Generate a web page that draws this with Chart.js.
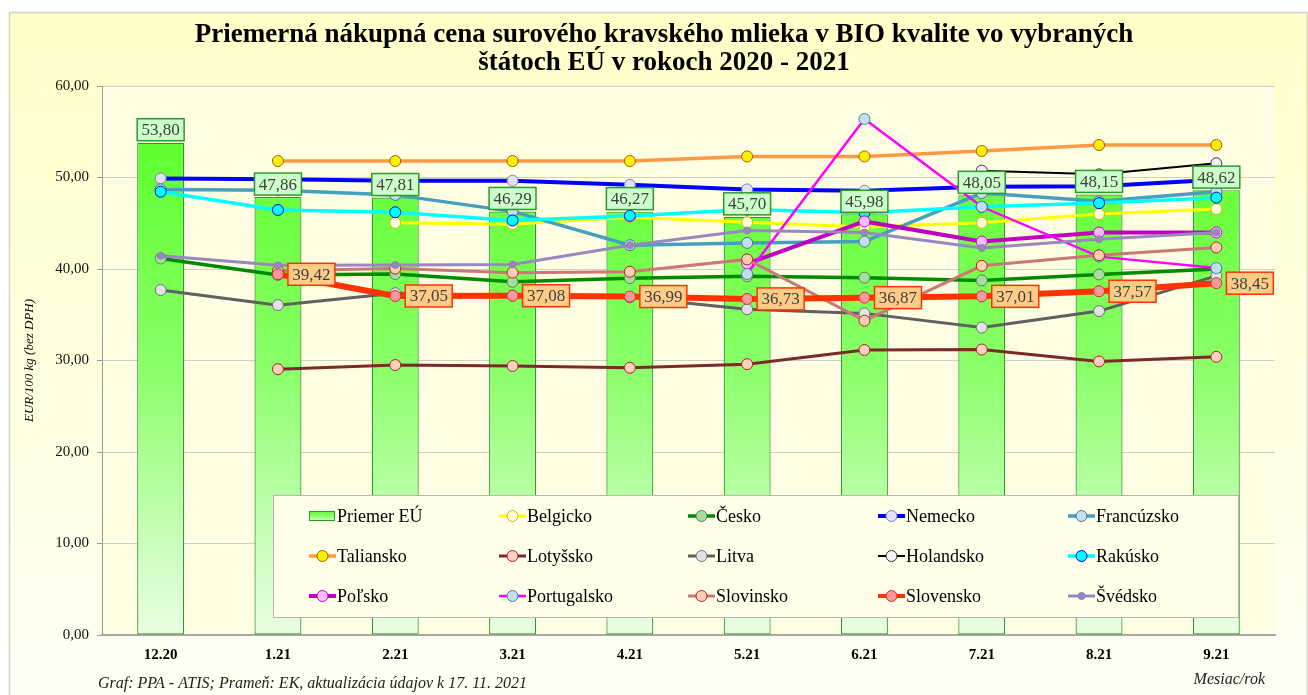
<!DOCTYPE html>
<html>
<head>
<meta charset="utf-8">
<script src="https://cdn.jsdelivr.net/npm/chart.js@4"></script>
<style>
  html, body { margin: 0; padding: 0; background: #fff; }
  #wrap { width: 1308px; height: 695px; }
</style>
</head>
<body>
<div id="wrap"><canvas id="myChart"></canvas></div>
<script>
const months = ["12.20", "1.21", "2.21", "3.21", "4.21", "5.21", "6.21", "7.21", "8.21", "9.21"];
const yTicks = [0, 10, 20, 30, 40, 50, 60];

const priemerEU = [53.80, 47.86, 47.81, 46.29, 46.27, 45.70, 45.98, 48.05, 48.15, 48.62];
const belgicko = [null, null, 45.05, 44.90, 45.65, 45.10, 44.60, 45.05, 46.00, 46.55];
const cesko = [41.15, 39.35, 39.45, 38.60, 39.00, 39.20, 39.05, 38.75, 39.40, 40.00];
const nemecko = [49.90, 49.80, 49.65, 49.65, 49.20, 48.70, 48.55, 49.00, 49.05, 49.75];
const francuzsko = [48.70, 48.60, 48.10, 46.30, 42.60, 42.85, 43.00, 48.30, 47.40, 48.45];
const taliansko = [null, 51.80, 51.80, 51.80, 51.80, 52.30, 52.30, 52.90, 53.55, 53.55];
const lotyssko = [null, 29.05, 29.50, 29.40, 29.20, 29.60, 31.15, 31.20, 29.90, 30.40];
const litva = [37.70, 36.05, 37.35, 37.10, 36.90, 35.60, 35.15, 33.60, 35.40, 39.25];
const holandsko = [null, null, null, null, null, null, null, 50.75, 50.35, 51.55];
const rakusko = [48.45, 46.45, 46.20, 45.30, 45.80, 46.50, 46.15, 46.80, 47.20, 47.80];
const polsko = [null, null, null, null, null, 40.60, 45.20, 43.00, 44.00, 44.00];
const portugalsko = [null, null, null, null, null, 39.45, 56.40, 46.80, 41.35, 40.10];
const slovinsko = [null, 39.80, 40.05, 39.60, 39.70, 41.05, 34.35, 40.35, 41.50, 42.35];
const slovensko = [null, 39.42, 37.05, 37.08, 36.99, 36.73, 36.87, 37.01, 37.57, 38.45];
const svedsko = [41.45, 40.40, 40.45, 40.50, 42.60, 44.20, 44.00, 42.30, 43.25, 44.00];

const serif = "'Liberation Serif', 'Times New Roman', serif";
const fmt = (v) => v.toFixed(2).replace(".", ",");

const lineSeries = [
  { label: "Belgicko", data: belgicko, color: "#ffff00", fill: "#ffffd8", edge: "#e0b000", width: 3 },
  { label: "Česko", data: cesko, color: "#008a00", fill: "#a8dca0", edge: "#4a8a4a", width: 3.5 },
  { label: "Nemecko", data: nemecko, color: "#0000ff", fill: "#e4e2fa", edge: "#8080b0", width: 4 },
  { label: "Francúzsko", data: francuzsko, color: "#45a0c0", fill: "#c4e0ee", edge: "#507090", width: 3.5 },
  { label: "Taliansko", data: taliansko, color: "#ff9944", fill: "#ffee00", edge: "#996600", width: 3.5 },
  { label: "Lotyšsko", data: lotyssko, color: "#7a2a2a", fill: "#ffd0c0", edge: "#aa2222", width: 3 },
  { label: "Litva", data: litva, color: "#606060", fill: "#e2e2e6", edge: "#707070", width: 3 },
  { label: "Holandsko", data: holandsko, color: "#000000", fill: "#f2f2fa", edge: "#333333", width: 2 },
  { label: "Rakúsko", data: rakusko, color: "#00ffff", fill: "#00ffff", edge: "#0000ff", width: 3.5 },
  { label: "Poľsko", data: polsko, color: "#c000c0", fill: "#ffbbff", edge: "#cc00cc", width: 4 },
  { label: "Portugalsko", data: portugalsko, color: "#ff00ff", fill: "#c0e0ee", edge: "#5080a0", width: 2.5 },
  { label: "Slovinsko", data: slovinsko, color: "#cc7777", fill: "#ffcfb0", edge: "#aa2222", width: 3 },
  { label: "Slovensko", data: slovensko, color: "#ff3300", fill: "#ff9999", edge: "#cc3333", width: 6 },
  { label: "Švédsko", data: svedsko, color: "#9988c0", fill: "#9988c0", edge: "#9080b8", width: 3, radius: 3.5 },
];

const barGradient = (ctx, top, bottom) => {
  const g = ctx.createLinearGradient(0, top, 0, bottom);
  g.addColorStop(0, "#55ff22");
  g.addColorStop(0.5, "#88ff66");
  g.addColorStop(1, "#eaffe4");
  return g;
};

const datasets = [
  {
    type: "bar",
    label: "Priemer EÚ",
    data: priemerEU,
    order: 100,
    backgroundColor: (c) => {
      const area = c.chart.chartArea;
      if (!area) return "#66ff33";
      return barGradient(c.chart.ctx, area.top, area.bottom);
    },
    borderColor: "#2a9a2a",
    borderWidth: 1.2,
    borderSkipped: false,
    barPercentage: 0.4,
    categoryPercentage: 1,
  },
  ...lineSeries.map((s, i) => ({
    type: "line",
    label: s.label,
    data: s.data,
    order: 50 - i,
    borderColor: s.color,
    borderWidth: s.width,
    backgroundColor: s.fill,
    pointBackgroundColor: s.fill,
    pointBorderColor: s.edge,
    pointBorderWidth: 1,
    pointRadius: s.radius || 5.5,
    tension: 0,
    fill: false,
  })),
];

const panelPlugin = {
  id: "panel",
  beforeDraw(chart) {
    const { ctx, width, height, chartArea } = chart;
    ctx.save();
    ctx.fillStyle = "#ffffff";
    ctx.fillRect(0, 0, width, height);
    const g = ctx.createLinearGradient(0, 12, 0, height);
    g.addColorStop(0, "#ffffc8");
    g.addColorStop(1, "#fffff4");
    ctx.fillStyle = g;
    ctx.fillRect(9.5, 12.5, width - 10, height - 12);
    ctx.strokeStyle = "#d2d2c8";
    ctx.lineWidth = 1.5;
    ctx.strokeRect(9.5, 12.5, width - 10, height);
    ctx.fillStyle = "#fffde2";
    ctx.fillRect(chartArea.left, chartArea.top, chartArea.right - chartArea.left, chartArea.bottom - chartArea.top);
    ctx.restore();
  },
  afterDraw(chart) {
    const { ctx } = chart;
    ctx.save();
    ctx.fillStyle = "#000";
    ctx.textAlign = "center";
    ctx.textBaseline = "middle";
    ctx.font = "bold 27px " + serif;
    ctx.fillText("Priemerná nákupná cena surového kravského mlieka v BIO kvalite vo vybraných", 664, 35);
    ctx.fillText("štátoch EÚ v rokoch 2020 - 2021", 664, 63);
    ctx.font = "italic 16px " + serif;
    ctx.textAlign = "left";
    ctx.fillStyle = "#222";
    ctx.fillText("Graf: PPA - ATIS; Prameň: EK, aktualizácia údajov k 17. 11. 2021", 98, 684);
    ctx.textAlign = "right";
    ctx.fillText("Mesiac/rok", 1265, 680);
    ctx.restore();
  },
};

const drawBox = (ctx, x, y, w, h, bg, border, text) => {
  ctx.fillStyle = bg;
  ctx.fillRect(x, y, w, h);
  ctx.strokeStyle = border;
  ctx.lineWidth = 1.5;
  ctx.strokeRect(x, y, w, h);
  ctx.fillStyle = "#404040";
  ctx.textAlign = "center";
  ctx.textBaseline = "middle";
  ctx.font = "17px " + serif;
  ctx.fillText(text, x + w / 2, y + h / 2 + 1);
};

const labelsPlugin = {
  id: "valueLabels",
  afterDatasetsDraw(chart) {
    const { ctx } = chart;
    ctx.save();
    const barMeta = chart.getDatasetMeta(0);
    barMeta.data.forEach((el, i) => {
      const w = el.width;
      drawBox(ctx, el.x - w / 2, el.y - 24, w, 22, "#ccffcc", "#2a9a2a", fmt(priemerEU[i]));
    });
    const skIndex = datasets.findIndex((d) => d.label === "Slovensko");
    const skMeta = chart.getDatasetMeta(skIndex);
    skMeta.data.forEach((el, i) => {
      if (slovensko[i] === null) return;
      drawBox(ctx, el.x + 10, el.y - 11, 47, 22, "#ffcc88", "#ff3300", fmt(slovensko[i]));
    });

    // legend box inside plot
    const bx = 273, by = 495, bw = 965, bh = 122;
    ctx.fillStyle = "#fffee8";
    ctx.fillRect(bx, by, bw, bh);
    ctx.strokeStyle = "#b8b8b0";
    ctx.lineWidth = 1;
    ctx.strokeRect(bx + 0.5, by + 0.5, bw, bh);
    const names = datasets.map((d) => d.label);
    const colX = [309, 499, 688, 878, 1068];
    const rowY = [516, 556, 596];
    names.forEach((name, i) => {
      const x = colX[i % 5];
      const y = rowY[Math.floor(i / 5)];
      if (i === 0) {
        ctx.fillStyle = barGradient(ctx, y - 6, y + 6);
        ctx.fillRect(x, y - 5, 26, 10);
        ctx.strokeStyle = "#2a9a2a";
        ctx.lineWidth = 1;
        ctx.strokeRect(x + 0.5, y - 4.5, 25, 9);
      } else {
        const s = lineSeries[i - 1];
        ctx.strokeStyle = s.color;
        ctx.lineWidth = Math.min(s.width, 4);
        ctx.beginPath();
        ctx.moveTo(x, y);
        ctx.lineTo(x + 27, y);
        ctx.stroke();
        ctx.beginPath();
        ctx.arc(x + 13.5, y, s.radius || 5.5, 0, Math.PI * 2);
        ctx.fillStyle = s.fill;
        ctx.fill();
        ctx.strokeStyle = s.edge;
        ctx.lineWidth = 1;
        ctx.stroke();
      }
      ctx.fillStyle = "#000";
      ctx.textAlign = "left";
      ctx.textBaseline = "middle";
      ctx.font = "18px " + serif;
      ctx.fillText(name, x + 28, y + 1);
    });
    ctx.restore();
  },
};

const chart = new Chart(document.getElementById("myChart").getContext("2d"), {
  type: "bar",
  data: { labels: months, datasets: datasets },
  options: {
    responsive: true,
    maintainAspectRatio: false,
    animation: false,
    layout: { padding: { top: 86, right: 33, bottom: 30, left: 0 } },
    plugins: {
      legend: { display: false },
      title: { display: false },
      tooltip: { enabled: false },
    },
    scales: {
      x: {
        grid: { display: false },
        border: { display: true, color: "#a8a8a8", width: 2 },
        ticks: { color: "#000", padding: 3, font: { family: serif, size: 15, weight: "bold" } },
        afterFit: (scale) => { scale.height = 30; },
      },
      y: {
        min: 0,
        max: 60,
        afterBuildTicks: (scale) => { scale.ticks = yTicks.map((v) => ({ value: v })); },
        grid: { color: "#cfcfc8", lineWidth: 1, tickLength: 5, tickColor: "#999" },
        border: { display: true, color: "#999", width: 1 },
        ticks: {
          color: "#111",
          padding: 8,
          font: { family: serif, size: 15 },
          callback: (v) => fmt(v),
        },
        title: {
          display: true,
          text: "EUR/100 kg (bez DPH)",
          color: "#000",
          font: { family: serif, size: 13, style: "italic" },
          padding: { top: 22, bottom: 0 },
        },
        afterFit: (scale) => { scale.width = 102; },
      },
    },
  },
  plugins: [panelPlugin, labelsPlugin],
});
</script>
</body>
</html>
